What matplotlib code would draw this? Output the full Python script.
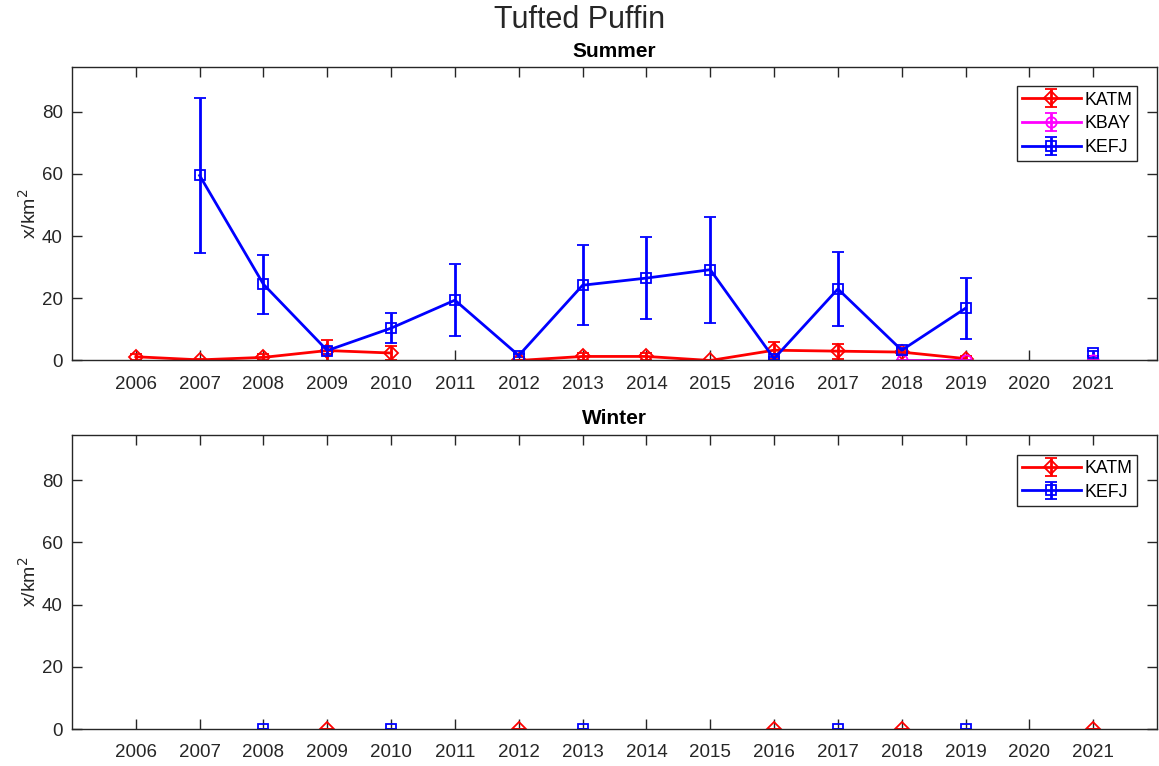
import numpy as np
import matplotlib
matplotlib.use("Agg")
import matplotlib.pyplot as plt

plt.rcParams['font.family'] = ['Liberation Sans', 'DejaVu Sans']

years = list(range(2006, 2022))
nan = np.nan

# Summer
katm_s = [1.2, 0.2, 1.0, 3.2, 2.4, nan, 0.0, 1.3, 1.3, 0.0, 3.3, 3.0, 2.7, 0.6, nan, nan]
katm_s_err = [1.0, 0.3, 1.0, 3.5, 2.4, nan, 0.2, 1.0, 1.0, 0.2, 2.8, 2.4, 0.8, 0.8, nan, nan]
kbay_s = [nan, nan, nan, nan, nan, nan, nan, nan, nan, nan, nan, nan, 0.0, 0.0, nan, 0.0]
kbay_s_err = [nan, nan, nan, nan, nan, nan, nan, nan, nan, nan, nan, nan, 0.0, 0.0, nan, 0.0]
kefj_s = [nan, 59.5, 24.5, 3.2, 10.4, 19.4, 1.6, 24.2, 26.5, 29.2, 0.6, 23.0, 3.3, 16.8, nan, 2.3]
kefj_s_err = [nan, 25.0, 9.5, 1.0, 4.8, 11.6, 0.5, 12.8, 13.3, 17.0, 0.5, 12.0, 0.8, 9.8, nan, 0.8]

# Winter
katm_w = [nan, nan, nan, 0.0, nan, nan, 0.0, nan, nan, nan, 0.0, nan, 0.0, nan, nan, 0.0]
katm_w_err = [nan, nan, nan, 0.0, nan, nan, 0.0, nan, nan, nan, 0.0, nan, 0.0, nan, nan, 0.0]
kefj_w = [nan, nan, 0.0, nan, 0.0, nan, nan, 0.0, nan, nan, nan, 0.0, nan, 0.0, nan, nan]
kefj_w_err = [nan, nan, 0.0, nan, 0.0, nan, nan, 0.0, nan, nan, nan, 0.0, nan, 0.0, nan, nan]

title = "Tufted Puffin"
panel_titles = ["Summer", "Winter"]
ylabel = "x/km$^2$"

fig = plt.figure(figsize=(11.59, 7.66), dpi=100)
ax1 = fig.add_axes([0.0621, 0.5294, 0.9362, 0.3836])
ax2 = fig.add_axes([0.0621, 0.0483, 0.9362, 0.3838])

RED = '#ff0000'
MAG = '#ff00ff'
BLUE = '#0000ff'

def eb(ax, y, e, color, marker, label):
    ax.errorbar(years, y, yerr=e, color=color, marker=marker, markersize=7.5,
                markerfacecolor='none', markeredgewidth=1.3, linewidth=2.0,
                elinewidth=2.0, capsize=4.5, capthick=2, label=label)

eb(ax1, katm_s, katm_s_err, RED, 'D', 'KATM')
eb(ax1, kbay_s, kbay_s_err, MAG, 'o', 'KBAY')
eb(ax1, kefj_s, kefj_s_err, BLUE, 's', 'KEFJ')

eb(ax2, katm_w, katm_w_err, RED, 'D', 'KATM')
eb(ax2, kefj_w, kefj_w_err, BLUE, 's', 'KEFJ')

for ax, t, tp in zip([ax1, ax2], panel_titles, [7, 8]):
    ax.set_xlim(2005, 2022)
    ax.set_ylim(0, 94.5)
    ax.set_xticks(years)
    ax.set_xticklabels([str(y) for y in years])
    ax.set_yticks([0, 20, 40, 60, 80])
    ax.tick_params(direction='in', top=True, right=True, labelsize=13.5,
                   colors='#262626', length=7, width=1)
    ax.tick_params(axis='x', pad=11)
    ax.tick_params(axis='y', pad=6.5)
    for s in ax.spines.values():
        s.set_color('#262626')
        s.set_linewidth(1)
    ax.set_ylabel(ylabel, fontsize=14, color='#262626', labelpad=1.5)
    ax.set_title(t, fontsize=15, fontweight='bold', pad=tp)
    leg = ax.legend(loc='upper right', fontsize=12.8, frameon=True, fancybox=False,
                    edgecolor='#262626', framealpha=1, borderaxespad=1.1,
                    handlelength=3.3, handletextpad=0.2, borderpad=0.3,
                    labelspacing=0.38)
    leg.get_frame().set_linewidth(1)

fig.text(0.5, 0.974, title, ha='center', va='center', fontsize=22, color='#262626')

fig.savefig('out.png', dpi=100)
